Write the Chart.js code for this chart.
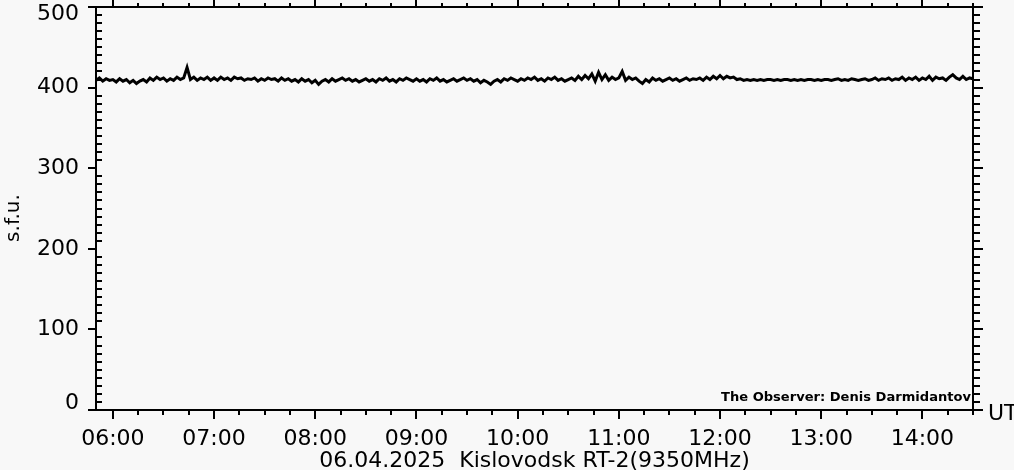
<!DOCTYPE html>
<html>
<head>
<meta charset="utf-8">
<script src="https://cdn.jsdelivr.net/npm/chart.js@4/dist/chart.umd.min.js"></script>
<style>
  html, body { margin: 0; padding: 0; background: #f8f8f8; }
  #wrap { width: 1014px; height: 470px; position: relative; }
</style>
</head>
<body>
<div id="wrap"><canvas id="rt2Chart"></canvas></div>
<script>
// Время в минутах от начала суток (UT), отсчёты каждые 2 минуты
const sampleStart = 350;   // 05:50
const sampleStep = 2;
const timeMin = 350;       // 05:50
const timeMax = 870;       // 14:30

// Поток, s.f.u. (по часам)
const flux0550 = [409, 412, 408, 411, 409];
const flux06 = [410, 407, 411, 408, 410, 406, 409, 405, 408, 410, 407, 412, 409, 413, 410, 412, 408, 411, 409, 413, 410, 412, 425, 410, 413, 409, 412, 410, 413, 409];
const flux07 = [412, 409, 413, 410, 412, 409, 413, 411, 412, 409, 411, 410, 412, 408, 411, 409, 412, 410, 411, 408, 412, 409, 411, 408, 410, 407, 411, 408, 410, 406];
const flux08 = [409, 404, 408, 410, 407, 411, 408, 410, 412, 409, 411, 408, 410, 407, 409, 411, 408, 410, 407, 411, 409, 412, 408, 410, 407, 411, 409, 412, 410, 408];
const flux09 = [411, 408, 410, 407, 411, 409, 412, 408, 410, 407, 409, 411, 408, 410, 412, 409, 411, 408, 410, 406, 409, 407, 404, 408, 410, 407, 411, 409, 412, 410];
const flux10 = [408, 411, 409, 412, 410, 413, 409, 411, 408, 412, 410, 413, 409, 411, 408, 410, 412, 409, 414, 410, 415, 411, 417, 408, 419, 410, 416, 409, 413, 410];
const flux11 = [412, 420, 409, 413, 410, 412, 408, 405, 410, 407, 412, 409, 411, 408, 410, 412, 409, 411, 408, 410, 412, 409, 411, 410, 412, 409, 413, 410, 414, 411];
const flux12 = [415, 411, 414, 412, 413, 410, 411, 409, 410, 409, 410, 409, 410, 409, 410, 410, 409, 410, 409, 410, 410, 409, 410, 409, 410, 409, 410, 410, 409, 410];
const flux13 = [409, 410, 410, 409, 410, 411, 409, 410, 409, 411, 410, 409, 410, 411, 409, 410, 412, 409, 411, 410, 412, 409, 411, 410, 413, 409, 412, 410, 413, 409];
const flux14 = [412, 410, 414, 409, 413, 411, 412, 409, 413, 416, 412, 410, 414, 410, 412, 411];

const hourTicks = [360, 420, 480, 540, 600, 660, 720, 780, 840];
const hourLabels = ['06:00', '07:00', '08:00', '09:00', '10:00', '11:00', '12:00', '13:00', '14:00'];
const yTicks = [0, 100, 200, 300, 400, 500];
const yLabels = ['0', '100', '200', '300', '400', '500'];

const chartTitle = '06.04.2025  Kislovodsk RT-2(9350MHz)';
const observerText = 'The Observer: Denis Darmidantov';

const flux = [].concat(flux0550, flux06, flux07, flux08, flux09, flux10, flux11, flux12, flux13, flux14);
const points = flux.map((v, i) => ({ x: sampleStart + i * sampleStep, y: v }));

const FONT = '"DejaVu Sans", sans-serif';

// Фон и рамка с засечками в стиле IDL
const axesPlugin = {
    id: 'idlAxes',
    beforeDraw(chart) {
        const ctx = chart.ctx;
        ctx.save();
        ctx.fillStyle = '#f8f8f8';
        ctx.fillRect(0, 0, chart.width, chart.height);
        ctx.restore();
    },
    afterDraw(chart) {
        const ctx = chart.ctx;
        const a = chart.chartArea;
        const xs = chart.scales.x;
        const ys = chart.scales.y;
        ctx.save();
        ctx.fillStyle = '#000';

        // рамка
        ctx.fillRect(a.left - 1, a.top - 1, 2, a.bottom - a.top + 2);
        ctx.fillRect(a.right - 1, a.top - 1, 2, a.bottom - a.top + 2);
        ctx.fillRect(a.left - 1, a.top - 1, a.right - a.left + 2, 2);
        ctx.fillRect(a.left - 1, a.bottom - 1, a.right - a.left + 2, 2);

        // засечки по Y
        for (let v = 0; v <= 500; v += 10) {
            const y = Math.round(ys.getPixelForValue(v));
            const major = v % 100 === 0;
            if (major) {
                ctx.fillRect(a.left - 8, y - 1, 8, 2);
                ctx.fillRect(a.right, y - 1, 10, 2);
            } else {
                ctx.fillRect(a.left, y - 1, 6, 2);
                ctx.fillRect(a.right, y - 1, 7, 2);
            }
        }

        // засечки по X
        for (let t = 360; t <= timeMax; t += 15) {
            const x = Math.round(xs.getPixelForValue(t));
            const major = t % 60 === 0;
            if (major) {
                ctx.fillRect(x - 1, a.top - 7, 2, 7);
                ctx.fillRect(x - 1, a.bottom, 2, 9);
            } else {
                ctx.fillRect(x - 1, a.top - 4, 2, 4);
                ctx.fillRect(x - 1, a.bottom, 2, 5);
            }
        }

        // подписи Y
        ctx.font = '22px ' + FONT;
        ctx.textAlign = 'right';
        ctx.textBaseline = 'middle';
        yTicks.forEach((v, i) => {
            let y = ys.getPixelForValue(v);
            y = Math.min(Math.max(y, 14), 403);
            ctx.fillText(yLabels[i], 79, y);
        });

        // подписи X
        ctx.textAlign = 'center';
        hourTicks.forEach((t, i) => {
            ctx.fillText(hourLabels[i], xs.getPixelForValue(t), 439);
        });

        // заголовок снизу
        ctx.fillText(chartTitle, (a.left + a.right) / 2, 461);

        // UT
        ctx.textAlign = 'left';
        ctx.fillText('UT', 988, 414);

        // наблюдатель (растянут до ширины оригинала)
        ctx.save();
        ctx.font = 'bold 12px ' + FONT;
        ctx.textAlign = 'right';
        const w = ctx.measureText(observerText).width;
        const sx = 250 / w;
        ctx.translate(a.right - 2, 398);
        ctx.scale(sx, 1);
        ctx.fillText(observerText, 0, 0);
        ctx.restore();

        // ось Y: s.f.u.
        ctx.font = '20px ' + FONT;
        ctx.translate(14, 218);
        ctx.rotate(-Math.PI / 2);
        ctx.textAlign = 'center';
        ctx.fillText('s.f.u.', 0, 0);
        ctx.restore();
    }
};

const ctx = document.getElementById('rt2Chart').getContext('2d');
const rt2Chart = new Chart(ctx, {
    type: 'line',
    data: {
        datasets: [{
            data: points,
            borderColor: '#000',
            borderWidth: 3,
            pointRadius: 0,
            tension: 0,
            fill: false
        }]
    },
    options: {
        responsive: true,
        maintainAspectRatio: false,
        animation: false,
        layout: { padding: { left: 96, right: 41, top: 7, bottom: 60 } },
        plugins: {
            legend: { display: false },
            tooltip: { enabled: false },
            title: { display: false }
        },
        scales: {
            x: { type: 'linear', min: timeMin, max: timeMax, display: false },
            y: { min: 0, max: 500, display: false }
        }
    },
    plugins: [axesPlugin]
});
</script>
</body>
</html>
